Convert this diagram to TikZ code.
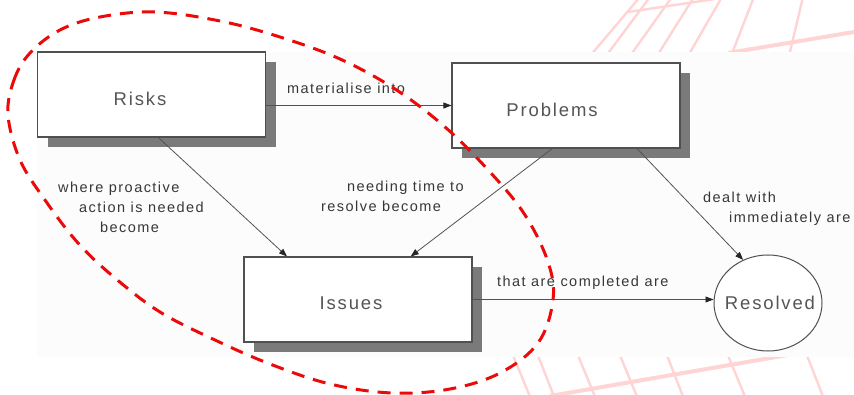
\documentclass[tikz,border=0pt]{standalone}
\usepackage{fontspec}
\setmainfont{Liberation Sans}
\newfontfamily\lblfont[LetterSpace=10]{Liberation Sans}
\usetikzlibrary{arrows.meta,shadows,calc,shapes.geometric}
\definecolor{panel}{RGB}{252,252,252}
\definecolor{rosy}{RGB}{255,212,212}
\definecolor{boxline}{RGB}{80,80,80}
\definecolor{shade}{RGB}{122,122,122}
\definecolor{txt}{RGB}{55,55,55}
\definecolor{ttl}{RGB}{85,85,85}
\definecolor{ringred}{RGB}{235,10,10}

\begin{document}
\begin{tikzpicture}[x=1pt,y=-1pt,
  stage/.style={draw=boxline, line width=1.1pt, fill=white,
    minimum width=228pt, minimum height=85pt, inner sep=0pt,
    general shadow={fill=shade, shadow xshift=10pt, shadow yshift=-10pt}},
  endstate/.style={ellipse, draw=boxline, line width=1pt, fill=white,
    minimum width=108pt, minimum height=96pt, inner sep=0pt},
  title/.style={font=\lblfont\fontsize{18.5}{20}\selectfont, text=ttl,
    anchor=base, inner sep=0pt},
  lbl/.style={font=\lblfont\fontsize{14.5}{20}\selectfont, text=txt,
    anchor=base west, inner sep=0pt, align=left},
  link/.style={draw=black!68, line width=0.8pt,
    -{Triangle[length=8pt,width=6pt,color=black!85]}},
  thin/.style={draw=rosy, line width=2.4pt},
  thick/.style={draw=rosy, line width=4pt},
  ring/.style={draw=ringred, line width=3pt, dash pattern=on 13pt off 9pt}
]
\useasboundingbox (0,0) rectangle (854,395);
\clip (0,0) rectangle (854,395);

% faint grid strokes behind the panel
\draw[thin] (590,56) -- (640,-3);
\draw[thin] (606,56) -- (650,-3);
\draw[thin] (630,56) -- (672,-3);
\draw[thin] (657,56) -- (694,-3);
\draw[thin] (688,56) -- (722,-3);
\draw[thin] (731,56) -- (754,-3);
\draw[thin] (789,56) -- (803,-3);
\draw[thin] (628,12) -- (715,-1);
\draw[thick] (728,53) -- (860,31);
\draw[thin] (512,353) -- (531,399);
\draw[thin] (537,353) -- (555,399);
\draw[thin] (577,353) -- (596,399);
\draw[thin] (619,353) -- (638,399);
\draw[thin] (666,353) -- (684,399);
\draw[thin] (727,353) -- (746,399);
\draw[thin] (806,353) -- (824,399);
\draw[thick] (550,396) -- (805,352);

% panel
\fill[panel] (37,52) rectangle (854,357);

% states
\node[stage] (risks) at (151.5,94.5) {};
\node[stage] (prob) at (566,105.5) {};
\node[stage] (iss) at (358,299.5) {};
\node[endstate] (res) at (768,303) {};

\node[title] (risks-t) at (140,105.5) {Risks};
\node[title] (prob-t) at (552,116.5) {Problems};
\node[title] (iss-t) at (351,309) {Issues};
\node[title] (res-t) at (770,309) {Resolved};

% transitions
\draw[link] (prob.west -| risks.east) -- (prob.west);
\draw[link] ($(risks.south west)!0.53!(risks.south east)$) -- ($(iss.north west)!0.19!(iss.north east)$);
\draw[link] ($(prob.south west)!0.44!(prob.south east)$) -- ($(iss.north west)!0.73!(iss.north east)$);
\draw[link] ($(prob.south west)!0.81!(prob.south east)$) -- (res.120);
\draw[link] (iss.east) -- (iss.east -| res.west);

% transition labels (multi-line labels sit on their last baseline)
\node[lbl] (l-mat) at (287,94) {materialise into};
\node[lbl] (l-pro) at (58,233) {where proactive\\\hspace*{21pt}action is needed\\\hspace*{42pt}become};
\node[lbl] (l-need) at (321,212) {\hspace*{26pt}needing time to\\resolve become};
\node[lbl] (l-deal) at (703,223) {dealt with\\\hspace*{26pt}immediately are};
\node[lbl] (l-done) at (497,287) {that are completed are};

% dashed outline around the unresolved states
\draw[ring]
  plot[smooth cycle, tension=0.6] coordinates {
    (8,115) (14,80) (30,53) (60,30) (100,17) (155,12) (220,21) (280,37)
    (340,59) (395,89) (445,127) (490,172) (525,215) (548,262) (553,300)
    (538,343) (500,373) (450,389) (392,393) (330,384) (270,364) (215,340)
    (160,312) (115,278) (78,243) (45,200) (20,160)};
\end{tikzpicture}
\end{document}
